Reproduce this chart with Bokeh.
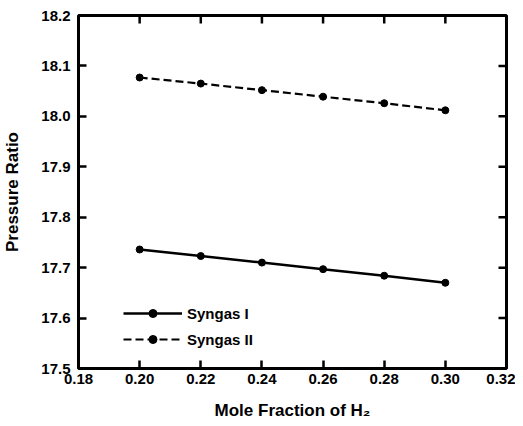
import math
from bokeh.plotting import figure
from bokeh.models import Range1d, FixedTicker, NumeralTickFormatter, Legend, LegendItem
from bokeh.embed import file_html
from bokeh.resources import INLINE

# Data
h2_fraction = [0.20, 0.22, 0.24, 0.26, 0.28, 0.30]
syngas_1 = [17.736, 17.723, 17.710, 17.697, 17.684, 17.670]
syngas_2 = [18.077, 18.065, 18.052, 18.039, 18.026, 18.012]
x_ticks = [0.18, 0.20, 0.22, 0.24, 0.26, 0.28, 0.30, 0.32]
y_ticks = [17.5, 17.6, 17.7, 17.8, 17.9, 18.0, 18.1, 18.2]

FONT = "Liberation Sans"
TICK_LEN = 8
TICK_W = 2.5

p = figure(width=515, height=424, output_backend="svg", toolbar_location=None,
           x_range=Range1d(x_ticks[0], x_ticks[-1]), y_range=Range1d(y_ticks[0], y_ticks[-1]),
           min_border_left=78, min_border_right=9, min_border_top=15, min_border_bottom=56,
           x_axis_label="Mole Fraction of H\u2082", y_axis_label="Pressure Ratio")
p.background_fill_color = "white"
p.border_fill_color = "white"
p.grid.visible = False
p.outline_line_color = "black"
p.outline_line_width = 3

p.xaxis.ticker = FixedTicker(ticks=x_ticks)
p.xaxis.formatter = NumeralTickFormatter(format="0.00")
p.yaxis.ticker = FixedTicker(ticks=y_ticks)
p.yaxis.formatter = NumeralTickFormatter(format="0.0")

for ax in p.axis:
    ax.axis_line_color = None
    ax.major_tick_in = TICK_LEN
    ax.major_tick_out = 0
    ax.major_tick_line_width = TICK_W
    ax.major_tick_line_color = "black"
    ax.minor_tick_line_color = None
    ax.major_label_text_font = FONT
    ax.major_label_text_font_style = "bold"
    ax.major_label_text_font_size = "15px"
    ax.major_label_text_color = "black"
    ax.axis_label_text_font = FONT
    ax.axis_label_text_font_style = "bold"
    ax.axis_label_text_font_size = "17px"
    ax.axis_label_text_color = "black"

p.xaxis.major_label_standoff = 5
p.yaxis.major_label_standoff = 8
p.xaxis.axis_label_standoff = 14
p.yaxis.axis_label_standoff = 16

# mirrored ticks on the top and right edges of the frame
p.ray(x=x_ticks, y=[y_ticks[-1]] * len(x_ticks), length=TICK_LEN, length_units="screen",
      angle=-math.pi / 2, line_color="black", line_width=TICK_W)
p.ray(x=[x_ticks[-1]] * len(y_ticks), y=y_ticks, length=TICK_LEN, length_units="screen",
      angle=math.pi, line_color="black", line_width=TICK_W)

l1 = p.line(h2_fraction, syngas_1, line_color="black", line_width=2.5)
s1 = p.scatter(h2_fraction, syngas_1, size=7, color="black")
l2 = p.line(h2_fraction, syngas_2, line_color="black", line_width=2.2, line_dash="8 4")
s2 = p.scatter(h2_fraction, syngas_2, size=7, color="black")

legend = Legend(items=[LegendItem(label="Syngas I", renderers=[l1, s1]),
                       LegendItem(label="Syngas II", renderers=[l2, s2])],
                location=(45, 19))
legend.border_line_color = None
legend.background_fill_alpha = 0
legend.padding = 0
legend.margin = 0
legend.spacing = 6
legend.glyph_width = 59
legend.glyph_height = 20
legend.label_height = 20
legend.label_standoff = 5
legend.label_text_font = FONT
legend.label_text_font_style = "bold"
legend.label_text_font_size = "15px"
legend.label_text_color = "black"
p.add_layout(legend, "center")

open("out.html", "w").write(file_html(p, INLINE))
